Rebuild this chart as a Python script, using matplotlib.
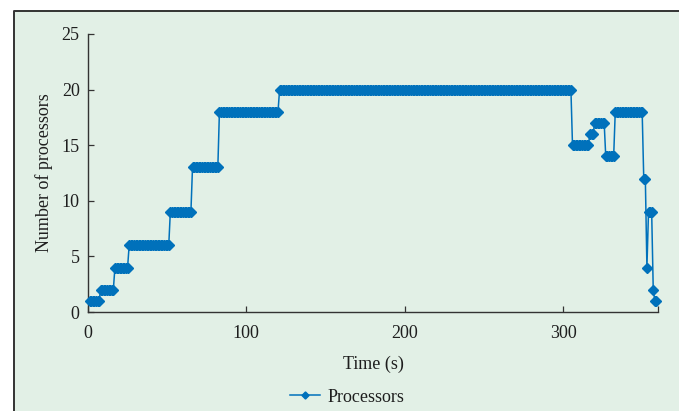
import numpy as np
import matplotlib.pyplot as plt
from matplotlib.patches import Rectangle
from matplotlib.ticker import FixedLocator

# step levels: level holds from its start second up to the next start
step_start = [1, 8, 17, 26, 52, 66, 83, 121, 306, 317, 320, 327, 333, 351, 353, 354, 357, 358]
step_level = [1, 2, 4, 6, 9, 13, 18, 20, 15, 16, 17, 14, 18, 12, 4, 9, 2, 1]
last_second = 359

x_ticks = [0, 100, 200, 300]
y_ticks = [0, 5, 10, 15, 20, 25]

bg = '#e2f0e6'
blue = '#0071bb'

plt.rcParams['font.family'] = ['Liberation Serif', 'DejaVu Serif']
fs = 13

# one sample per second, as in the logged series
edges = step_start + [last_second + 1]
durations = np.diff(edges)
time = np.arange(step_start[0], last_second + 1)
procs = np.repeat(step_level, durations)

fig = plt.figure(figsize=(6.79, 4.11), dpi=100)
fig.patch.set_facecolor('white')
W, H = 679., 411.
# green panel with border only on left and top
fig.patches.append(Rectangle((14/W, -0.05), 1.0, 1 - 11/H + 0.05, transform=fig.transFigure,
                             facecolor=bg, edgecolor='none', zorder=0))
fig.add_artist(plt.Line2D([14/W, 14/W, 1.0], [0, 1 - 11/H, 1 - 11/H], transform=fig.transFigure,
                          color='#333333', lw=1.4))

ax = fig.add_axes([88/W, 99/H, (658-88)/W, (312-34)/H])
ax.set_zorder(5)
ax.set_facecolor('none')
ax.plot(time, procs, color=blue, lw=1.1, marker='D', ms=4.8, mew=1.0,
        mec=blue, mfc=blue, label='Processors', clip_on=False, zorder=3, snap=False)

ax.set_xlim(0, 360)
ax.set_ylim(0, 25)
ax.set_xticks(x_ticks)
ax.set_yticks(y_ticks)
ax.xaxis.set_minor_locator(FixedLocator([360]))
for s in ['top', 'right']:
    ax.spines[s].set_visible(False)
for s in ['left', 'bottom']:
    ax.spines[s].set_color('#333333')
    ax.spines[s].set_linewidth(1.0)
ax.tick_params(which='both', direction='in', length=4, width=0.9, color='#333333',
               labelsize=fs, labelcolor='#1e1e1e')
ax.tick_params(axis='x', pad=9)
ax.tick_params(axis='y', pad=6)
ax.set_xlabel('Time (s)', fontsize=fs, color='#1e1e1e', labelpad=10)
ax.set_ylabel('Number of processors', fontsize=fs, color='#1e1e1e', labelpad=6)

leg = fig.legend(loc='center', bbox_to_anchor=(347/W, 14/H), frameon=False, fontsize=fs,
                 handlelength=1.7, handletextpad=0.4, labelcolor='#1e1e1e',
                 markerscale=0.75)
leg.set_zorder(6)

plt.savefig('out.png', dpi=100, facecolor=fig.get_facecolor())
